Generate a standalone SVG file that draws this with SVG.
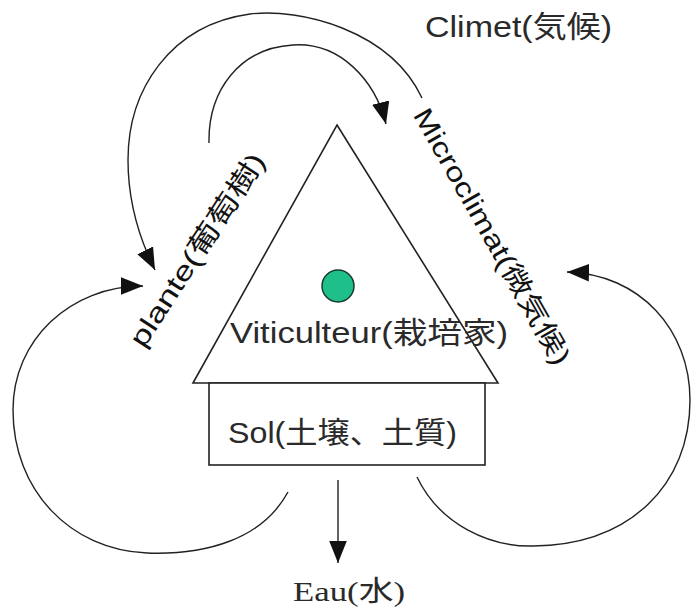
<svg xmlns="http://www.w3.org/2000/svg" width="691" height="607" viewBox="0 0 691 607">
<style>
.bg{fill:#ffffff}
.shape{fill:#ffffff;stroke:#222;stroke-width:1.6}
.conn{fill:none;stroke:#222;stroke-width:1.4}
.lbl{font-family:"Liberation Sans","Noto Sans CJK JP",sans-serif;font-size:30px;fill:#2a2a2a}
.rot{font-family:"Liberation Sans","Noto Sans CJK JP",sans-serif;font-size:27px;fill:#111}
.serif{font-family:"Liberation Serif","Noto Sans CJK JP",serif;font-size:28px;fill:#2a2a2a}
</style>
<defs>
<marker id="ah" markerUnits="userSpaceOnUse" markerWidth="22" markerHeight="18" viewBox="0 0 20 16" refX="20" refY="8" orient="auto">
<path d="M0,0 L20,8 L0,16 z" fill="#111"/>
</marker>
</defs>
<rect class="bg" x="0" y="0" width="691" height="607"/>

<g id="connectors">
<path class="conn" d="M422,98 C390,30 300,8 250,14 C170,25 128,90 128,160 C128,205 140,240 155,270" marker-end="url(#ah)"/>
<path class="conn" d="M209,143 C208,90 240,48 293,45 C340,42 375,80 386,124" marker-end="url(#ah)"/>
<path class="conn" d="M288,492 C262,540 205,555 147,553 C70,550 13,490 13,410 C13,340 70,286 143,286" marker-end="url(#ah)"/>
<path class="conn" d="M417,477 C440,525 490,547 533,546 C630,545 690,485 690,400 C690,330 640,274 567,272" marker-end="url(#ah)"/>
<path class="conn" d="M338,480 L338,563" marker-end="url(#ah)"/>
</g>

<g id="viticulteur">
<polygon class="shape" points="337,125 498,383 193,383"/>
<ellipse cx="338" cy="286" rx="16" ry="16" fill="#1fbf8c" stroke="#1a3a2a" stroke-width="1.5"/>
<text class="lbl" x="230" y="343" textLength="278" lengthAdjust="spacingAndGlyphs">Viticulteur(栽培家)</text>
</g>

<g id="sol">
<rect class="shape" x="209" y="383" width="276" height="82"/>
<text class="lbl" x="228" y="443" textLength="229" lengthAdjust="spacingAndGlyphs">Sol(土壌、土質)</text>
</g>

<g id="climet">
<text class="lbl" x="425" y="37" textLength="187" lengthAdjust="spacingAndGlyphs">Climet(気候)</text>
</g>

<g id="plante">
<text class="rot" transform="translate(205,255) rotate(-57)" x="0" y="0" text-anchor="middle" textLength="225" lengthAdjust="spacingAndGlyphs">plante(葡萄樹)</text>
</g>

<g id="microclimat">
<text class="rot" transform="translate(484,241) rotate(60.5)" x="0" y="0" text-anchor="middle" textLength="290" lengthAdjust="spacingAndGlyphs">Microclimat(微気候)</text>
</g>

<g id="eau">
<text class="serif" x="293" y="601" textLength="112" lengthAdjust="spacingAndGlyphs">Eau(水)</text>
</g>
</svg>
